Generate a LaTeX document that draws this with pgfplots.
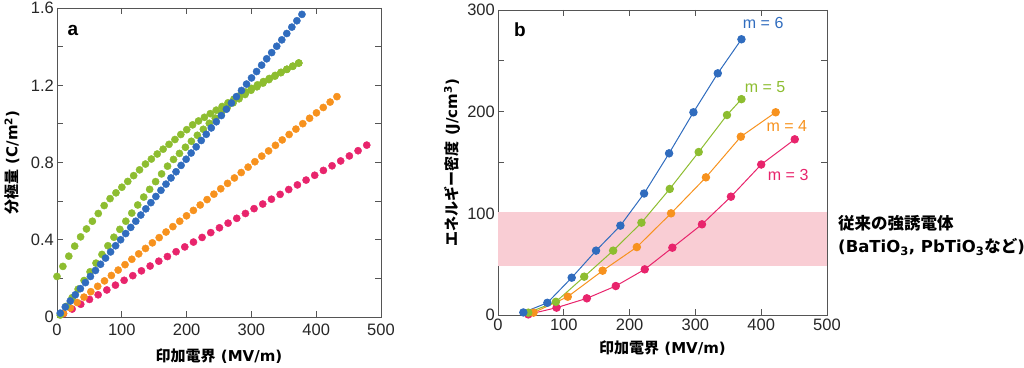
\documentclass[border=0pt]{standalone}
\usepackage{fontspec}
\setmainfont{Liberation Sans}
\newfontfamily\jp{Noto Sans CJK JP}
\newfontfamily\dv{DejaVu Sans}
\usepackage{pgfplots}
\pgfplotsset{compat=1.18}
\definecolor{cblue}{RGB}{48,108,190}
\definecolor{cgreen}{RGB}{141,189,48}
\definecolor{corange}{RGB}{247,146,30}
\definecolor{cpink}{RGB}{232,36,108}
\definecolor{bandpink}{RGB}{249,205,212}
\definecolor{axgray}{RGB}{85,85,85}
\pgfplotsset{
  common/.style={
    scale only axis,
    axis line style={axgray, line width=0.9pt},
    tick style={axgray, line width=0.9pt},
    major tick length=6pt, minor tick length=6pt,
    tick align=inside,
    /pgf/number format/assume math mode=true,
    tick label style={font=\fontsize{16.5}{16.5}\selectfont, text=black!85},
    yticklabel style={inner sep=1pt, xshift=-2pt},
    label style={font=\fontsize{15}{15}\selectfont\dv\bfseries},
    xmin=0, xmax=500,
    xtick={0,100,200,300,400,500},
  },
  dots/.style={only marks, color=#1, mark=*, mark size=3.6pt, mark options={draw=none, fill=#1}},
  lm/.style={color=#1, line width=1pt, mark=*, mark size=3.7pt, mark options={draw=none, fill=#1}},
}
\begin{document}
\begin{tikzpicture}
\useasboundingbox (0,0) rectangle (1024pt,367pt);
% ---------------- panel a
\begin{axis}[common,
  at={(57pt,50pt)}, anchor=south west,
  width=324pt, height=309pt,
  ymin=0, ymax=1.6,
  ytick={0,0.4,0.8,1.2,1.6},
  minor ytick={0.2,0.6,1.0,1.4},
  xticklabel style={inner sep=1pt, yshift=-6pt},
  xlabel={{\jp 印加電界} (MV/m)},
  ylabel={{\jp 分極量} (C/m\textsuperscript{2})},
  xlabel style={at={(axis description cs:0.5,-0.126)}, anchor=center},
  ylabel style={at={(axis description cs:-0.139,0.5)}, anchor=center},
]
\addplot[dots=cpink] coordinates {
(10,0.017)(23.4,0.041)(36.7,0.066)(50.1,0.091)(63.5,0.115)(76.9,0.140)
(90.2,0.165)(103.6,0.190)(117,0.214)(130.3,0.239)(143.7,0.264)(157.1,0.289)
(170.4,0.313)(183.8,0.338)(197.2,0.363)(210.6,0.388)(223.9,0.412)(237.3,0.437)
(250.7,0.462)(264,0.486)(277.4,0.511)(290.8,0.536)(304.1,0.561)(317.5,0.585)
(330.9,0.610)(344.3,0.635)(357.6,0.660)(371,0.684)(384.4,0.709)(397.7,0.734)
(411.1,0.759)(424.5,0.783)(437.8,0.808)(451.2,0.834)(464.6,0.861)(478,0.890)};
\addplot[dots=corange] coordinates {
(10,0.019)(20.6,0.047)(31.1,0.075)(41.7,0.103)(52.2,0.131)(62.8,0.159)
(73.3,0.187)(83.9,0.215)(94.4,0.243)(105,0.271)(115.5,0.299)(126.1,0.327)
(136.6,0.355)(147.2,0.384)(157.7,0.411)(168.3,0.440)(178.8,0.468)(189.4,0.496)
(199.9,0.524)(210.5,0.552)(221,0.580)(231.6,0.608)(242.1,0.636)(252.7,0.664)
(263.2,0.692)(273.8,0.720)(284.3,0.748)(294.9,0.776)(305.4,0.804)(316,0.833)
(326.5,0.860)(337.1,0.889)(347.6,0.917)(358.2,0.945)(368.7,0.973)(379.3,1.001)
(389.8,1.029)(400.4,1.057)(410.9,1.085)(421.5,1.113)(432,1.141)};
% green upper branch
\addplot[dots=cgreen] coordinates {
(0,0.210)(9.1,0.262)(18.2,0.315)(27.3,0.367)(36.4,0.415)(45.5,0.456)
(54.6,0.496)(63.7,0.536)(72.8,0.577)(81.9,0.613)(91,0.643)(100.1,0.672)
(109.2,0.702)(118.3,0.732)(127.4,0.762)(136.5,0.792)(145.6,0.818)(154.7,0.844)
(163.8,0.869)(172.9,0.894)(182,0.919)(191.1,0.945)(200.2,0.970)(209.3,0.995)
(218.4,1.015)(227.5,1.034)(236.6,1.053)(245.7,1.071)(254.8,1.090)(263.9,1.109)
(273,1.128)(282.1,1.146)(291.2,1.165)(300.3,1.184)(309.4,1.202)(318.5,1.219)
(327.6,1.235)(336.7,1.251)(345.8,1.267)(354.9,1.283)(364,1.299)(373.1,1.315)};
% green lower branch
\addplot[dots=cgreen] coordinates {
(5,0.010)(14.2,0.055)(23.4,0.100)(32.6,0.144)(41.8,0.189)(51,0.234)
(60.2,0.279)(69.4,0.324)(78.6,0.369)(87.8,0.413)(97,0.454)(106.2,0.496)
(115.4,0.538)(124.6,0.580)(133.8,0.621)(143,0.661)(152.2,0.701)(161.4,0.741)
(170.6,0.781)(179.8,0.816)(189,0.847)(198.2,0.879)(207.4,0.910)(216.6,0.941)
(225.8,0.972)(235,1.003)(244.2,1.030)(253.4,1.057)(262.6,1.084)(271.8,1.109)
(281,1.130)(290.2,1.152)(299.4,1.174)(308.6,1.192)(317.8,1.211)(327,1.229)
(336.2,1.247)(345.4,1.265)(354.6,1.282)(363.8,1.298)(373,1.315)};
\addplot[dots=cblue] coordinates {
(5,0.020)(12.8,0.052)(20.5,0.083)(28.3,0.115)(36.1,0.147)(43.9,0.178)
(51.6,0.210)(59.4,0.241)(67.2,0.273)(74.9,0.305)(82.7,0.337)(90.5,0.369)
(98.2,0.400)(106,0.432)(113.8,0.464)(121.6,0.496)(129.3,0.528)(137.1,0.560)
(144.9,0.592)(152.6,0.624)(160.4,0.656)(168.2,0.688)(175.9,0.720)(183.7,0.752)
(191.5,0.785)(199.3,0.817)(207,0.849)(214.8,0.881)(222.6,0.914)(230.3,0.946)
(238.1,0.979)(245.9,1.011)(253.6,1.043)(261.4,1.076)(269.2,1.108)(276.9,1.141)
(284.7,1.173)(292.5,1.206)(300.2,1.238)(308,1.271)(315.8,1.304)(323.6,1.337)
(331.3,1.369)(339.1,1.402)(346.9,1.435)(354.6,1.468)(362.4,1.501)(370.2,1.534)
(378,1.567)};
\node[font=\fontsize{19}{19}\selectfont\bfseries] at (axis cs:24.7,1.486) {a};
\end{axis}
% ---------------- panel b
\begin{axis}[common,
  at={(498pt,52pt)}, anchor=south west,
  width=329pt, height=305pt,
  ymin=0, ymax=300,
  ytick={0,100,200,300},
  minor ytick={50,150,250},
  xticklabel style={inner sep=1pt, yshift=-3pt},
  xlabel={{\jp 印加電界} (MV/m)},
  ylabel={{\jp エネルギー密度} (J/cm\textsuperscript{3})},
  xlabel style={at={(axis description cs:0.5,-0.108)}, anchor=center},
  ylabel style={at={(axis description cs:-0.14,0.5)}, anchor=center},
]
\fill[bandpink] (axis cs:0,48.5) rectangle (axis cs:500,101.5);
\addplot[lm=cpink] coordinates {
(46,0.6)(89,7.2)(135,16.4)(179,28.5)(223,44.9)(265,66.2)(310,89.2)(354,116.4)(400,148)(451,172.8)};
\addplot[lm=corange] coordinates {
(54,2.3)(106,18)(159,43.6)(211,66.8)(263,100)(316,135.4)(369,175.4)(422,199.4)};
\addplot[lm=cgreen] coordinates {
(46,2.3)(88,13)(131,37.7)(175,63.3)(218,90.8)(261,124)(305,160.3)(348,196.7)(370,212.3)};
\addplot[lm=cblue] coordinates {
(38.5,2.5)(75,12)(112,36.7)(149,63.3)(186,87.9)(222,119.5)(260,159)(297,199.4)(334,237.7)(370,271.2)};
\node[font=\fontsize{19}{19}\selectfont\bfseries] at (axis cs:33.4,281) {b};
\node[font=\fontsize{16}{16}\selectfont, text=cblue] at (axis cs:403,287.5) {m = 6};
\node[font=\fontsize{16}{16}\selectfont, text=cgreen] at (axis cs:406,224) {m = 5};
\node[font=\fontsize{16}{16}\selectfont, text=corange] at (axis cs:439,186) {m = 4};
\node[font=\fontsize{16}{16}\selectfont, text=cpink] at (axis cs:441,137.7) {m = 3};
\end{axis}
\node[anchor=west, inner sep=0pt, font=\fontsize{16.5}{16.5}\selectfont\dv\bfseries] at (838pt,144pt) {\jp 従来の強誘電体};
\node[anchor=west, inner sep=0pt, font=\fontsize{16.5}{16.5}\selectfont\dv\bfseries] at (838pt,120pt) {(BaTiO\textsubscript{3}, PbTiO\textsubscript{3}{\jp など})};
\end{tikzpicture}
\end{document}
